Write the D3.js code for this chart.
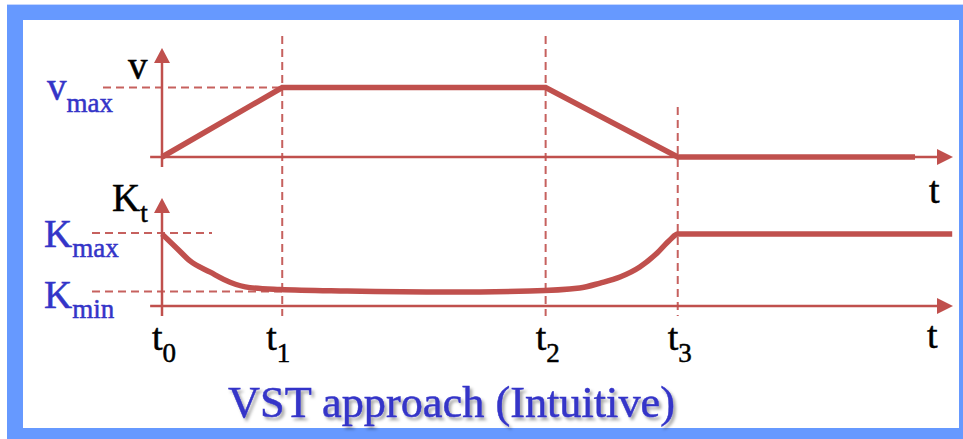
<!DOCTYPE html>
<html>
<head>
<meta charset="utf-8">
<script src="https://cdn.jsdelivr.net/npm/d3@7"></script>
<style>
  html, body { margin: 0; padding: 0; background: #fff; }
  svg { display: block; }
</style>
</head>
<body>
<svg id="chart" width="963" height="439"></svg>
<script>
// Phase boundaries t0..t3 (time units)
const phaseTimes = [0, 1.52, 4.85, 6.52];
const phaseSubs = ["0", "1", "2", "3"];

// Velocity profile: accelerate, cruise at vmax, decelerate, rest
const velT = [0, 1.52, 4.85, 6.52, 9.52];
const velV = [0, 1, 1, 0, 0];

// Gain profile K_t (normalised so that Kmax = 1)
const kT = [0, 0.19, 0.35, 0.61, 0.86, 1.11, 1.49, 2.34, 3.64, 4.65, 5.28, 5.54, 5.79, 6.04, 6.26, 6.42, 6.52, 9.99];
const kV = [1.0, 0.80, 0.63, 0.47, 0.33, 0.255, 0.229, 0.208, 0.194, 0.208, 0.25, 0.319, 0.403, 0.542, 0.736, 0.917, 1.0, 1.0];
const vMax = 1;
const kMax = 1;
const kMin = 0.2;

const RED = "#c0504d";
const BLUE = "#3434c8";
const FRAME = "#6699ff";
const SERIF = "'Liberation Serif', serif";

const svg = d3.select("#chart");

// frame
svg.append("rect").attr("x", 0).attr("y", 0).attr("width", 963).attr("height", 439).attr("fill", "#fff");
svg.append("rect").attr("x", 7).attr("y", 5).attr("width", 980).attr("height", 460).attr("fill", FRAME);
svg.append("rect").attr("x", 7).attr("y", 4).attr("width", 980).attr("height", 1).attr("fill", "#c4d6ff");
svg.append("rect").attr("x", 23).attr("y", 20).attr("width", 936).attr("height", 408).attr("fill", "#fff");

const defs = svg.append("defs");
const sh = defs.append("filter").attr("id", "shadow").attr("x", "-10%").attr("y", "-30%").attr("width", "130%").attr("height", "170%");
sh.append("feDropShadow").attr("dx", 2.5).attr("dy", 3).attr("stdDeviation", 1.8)
  .attr("flood-color", "#000").attr("flood-opacity", 0.35);

// scales
const x = d3.scaleLinear().domain([0, 10]).range([162, 953]);
const yV = d3.scaleLinear().domain([0, 1]).range([157, 87.5]);
const yK = d3.scaleLinear().domain([0, 1]).range([306, 234]);

const g = svg.append("g");

function arrowAxis(y0, yTop) {
  // horizontal axis with arrow
  g.append("line").attr("x1", x(-0.15)).attr("x2", x(10) - 12).attr("y1", y0).attr("y2", y0)
    .attr("stroke", RED).attr("stroke-width", 2.5);
  g.append("path").attr("d", `M${x(10)},${y0} L${x(10) - 16},${y0 - 8} L${x(10) - 16},${y0 + 8} Z`).attr("fill", RED);
  // vertical axis with arrow
  g.append("line").attr("x1", x(0)).attr("x2", x(0)).attr("y1", y0 + 10).attr("y2", yTop + 12)
    .attr("stroke", RED).attr("stroke-width", 2.5);
  g.append("path").attr("d", `M${x(0)},${yTop} L${x(0) - 8},${yTop + 15} L${x(0) + 8},${yTop + 15} Z`).attr("fill", RED);
}
arrowAxis(yV(0), yV(1.57));
arrowAxis(yK(0), yK(1.5));

// dashed guides
const dash = (x1, y1, x2, y2) => g.append("line").attr("x1", x1).attr("y1", y1).attr("x2", x2).attr("y2", y2)
  .attr("stroke", RED).attr("stroke-width", 2).attr("stroke-dasharray", "8,5").attr("opacity", 0.9);
dash(103, yV(vMax), x(phaseTimes[1]), yV(vMax));
dash(92, yK(kMax) - 1, 212, yK(kMax) - 1);
dash(92, yK(kMin), x(phaseTimes[1]), yK(kMin));
dash(x(phaseTimes[1]), 36, x(phaseTimes[1]), 316);
dash(x(phaseTimes[2]), 36, x(phaseTimes[2]), 316);
dash(x(phaseTimes[3]), 107, x(phaseTimes[3]), 316);

// velocity profile
const vLine = d3.line().x(d => x(d[0])).y(d => yV(d[1]));
g.append("path").attr("d", vLine(d3.zip(velT, velV))).attr("fill", "none")
  .attr("stroke", RED).attr("stroke-width", 5.5).attr("stroke-linejoin", "miter");

// gain profile
const kLine = d3.line().x(d => x(d[0])).y(d => yK(d[1])).curve(d3.curveMonotoneX);
g.append("path").attr("d", kLine(d3.zip(kT, kV))).attr("fill", "none")
  .attr("stroke", RED).attr("stroke-width", 5.5).attr("stroke-linejoin", "round");

// labels: main glyph with subscript
function label(xPos, yBase, main, sub, color, mainSize = 39, subSize = 27, subDy = 11) {
  const t = svg.append("text").attr("x", xPos).attr("y", yBase).attr("fill", color)
    .attr("stroke", color).attr("stroke-width", 0.5)
    .style("font-family", SERIF);
  t.append("tspan").attr("font-size", mainSize).text(main);
  if (sub) t.append("tspan").attr("font-size", subSize).attr("dy", subDy).text(sub);
  return t;
}

label(128, 79, "v", null, "#000");
label(47, 100, "v", "max", BLUE, 39, 27, 12);
label(112, 211, "K", "t", "#000", 39, 27, 11);
label(44, 247, "K", "max", BLUE, 39, 27, 10);
label(44, 308, "K", "min", BLUE, 39, 27, 10);

phaseTimes.forEach((t, i) => {
  label(x(t) - (i === 1 ? 16 : 10), 350, "t", phaseSubs[i], "#000", 38, 27, 12);
});
label(929, 203, "t", null, "#000", 38);
label(927, 348, "t", null, "#000", 38);

// caption
svg.append("text").attr("x", 228).attr("y", 417).attr("font-size", 45).attr("fill", BLUE)
  .attr("stroke", BLUE).attr("stroke-width", 0.5)
  .style("font-family", SERIF)
  .attr("filter", "url(#shadow)").attr("textLength", 447).attr("lengthAdjust", "spacingAndGlyphs")
  .text("VST approach (Intuitive)");
</script>
</body>
</html>
